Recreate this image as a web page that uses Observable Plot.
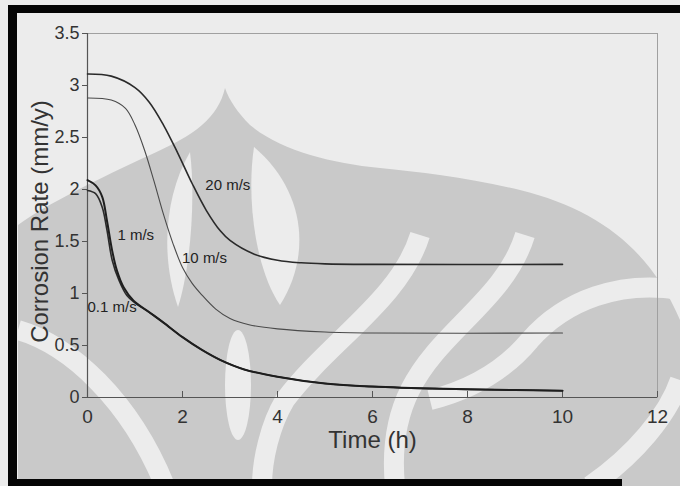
<!DOCTYPE html>
<html><head><meta charset="utf-8">
<script src="https://cdn.jsdelivr.net/npm/d3@7"></script>
<script src="https://cdn.jsdelivr.net/npm/@observablehq/plot@0.6"></script>
<style>
body{margin:0;background:#fff;}
#wrap{position:relative;width:680px;height:486px;overflow:hidden;background:#ececec;}
#wm{position:absolute;left:0;top:0;}
#chart{position:absolute;left:0;top:0;}
.bar{position:absolute;background:#050505;}
</style></head>
<body>
<div id="wrap">
<svg id="wm" width="680" height="486">
  <path d="M225,88 C218,118 195,135 150,155 C100,178 45,205 18,225 L18,486 L680,486 L680,320 C650,250 600,210 520,190 C470,178 420,172 380,168 C330,163 280,150 250,125 C238,113 229,100 225,88 Z" fill="#c9c9c9"/>
  <g fill="#ececec">
    <path d="M190,152 C165,195 160,255 178,307 C190,270 196,200 190,152 Z"/>
    <path d="M254,147 C305,190 312,255 280,305 C256,270 246,200 254,147 Z"/>
    <ellipse cx="238" cy="385" rx="13" ry="55"/>
  </g>
  <g fill="none" stroke="#ececec" stroke-width="20">
    <path d="M420,235 C400,300 330,340 285,400 C270,425 262,460 262,486"/>
    <path d="M525,235 C505,300 440,330 410,390 C395,420 392,455 395,486"/>
    <path d="M18,330 C70,345 130,400 165,486"/>
    <path d="M590,486 C635,455 668,415 680,380"/>
    <path d="M680,290 C620,280 565,300 530,340 C505,370 470,390 430,400"/>
  </g>
</svg>
<div id="chart"></div>
<div class="bar" style="left:8px;top:5px;width:672px;height:8px"></div>
<div class="bar" style="left:8px;top:5px;width:9px;height:481px"></div>
<div class="bar" style="left:8px;top:479px;width:614px;height:7px"></div>
</div>
<script>
// Corrosion rate (mm/y) vs time (h) at different flow velocities
const time20 = [0, 0.5, 1.0, 1.3, 1.6, 1.9, 2.2, 2.5, 2.8, 3.0, 3.5, 4.0, 4.5, 5, 6, 10];
const rate20 = [3.11, 3.09, 2.98, 2.84, 2.62, 2.35, 2.06, 1.80, 1.60, 1.51, 1.38, 1.32, 1.295, 1.285, 1.28, 1.28];

const time10 = [0, 0.5, 0.8, 1.0, 1.2, 1.4, 1.6, 1.8, 2.0, 2.2, 2.4, 2.7, 3.0, 3.4, 4.0, 5, 6, 10];
const rate10 = [2.88, 2.86, 2.78, 2.62, 2.38, 2.08, 1.76, 1.48, 1.25, 1.10, 0.99, 0.85, 0.76, 0.70, 0.66, 0.63, 0.62, 0.62];

const time1 = [0, 0.17, 0.31, 0.41, 0.52, 0.62, 0.76, 0.97, 1.3, 1.6, 2.0, 2.4, 2.8, 3.3, 4.0, 5.0, 6.0, 7.5, 9, 10];
const rate1 = [2.09, 2.04, 1.93, 1.70, 1.41, 1.22, 1.06, 0.93, 0.82, 0.72, 0.58, 0.46, 0.36, 0.27, 0.20, 0.135, 0.105, 0.083, 0.072, 0.065];

const time01 = [0, 0.17, 0.31, 0.41, 0.52, 0.66, 0.83, 1.0, 1.3, 1.6, 2.0, 2.4, 2.8, 3.3, 4.0, 5.0, 6.0, 7.5, 9, 10];
const rate01 = [1.99, 1.96, 1.83, 1.61, 1.32, 1.13, 0.98, 0.91, 0.82, 0.72, 0.58, 0.46, 0.36, 0.27, 0.20, 0.135, 0.105, 0.083, 0.072, 0.065];

const seriesNames = ["20 m/s", "10 m/s", "1 m/s", "0.1 m/s"];
const labelTime = [2.48, 1.99, 0.63, 0.0];
const labelRate = [2.04, 1.34, 1.56, 0.87];

const xTicks = [0, 2, 4, 6, 8, 10, 12];
const yTicks = [0, 0.5, 1, 1.5, 2, 2.5, 3, 3.5];

const toPts = (t, r) => t.map((x, i) => ({t: x, r: r[i]}));
const labels = seriesNames.map((s, i) => ({s, t: labelTime[i], r: labelRate[i]}));

const font = "'Liberation Sans', Arial, sans-serif";

const chart = Plot.plot({
  width: 680,
  height: 486,
  marginLeft: 87,
  marginRight: 23,
  marginTop: 33,
  marginBottom: 89,
  style: {background: "transparent", fontFamily: font, color: "#333"},
  x: {domain: [0, 12]},
  y: {domain: [0, 3.5]},
  marks: [
    Plot.frame({stroke: "#a0a0a0", strokeWidth: 1}),
    Plot.axisY(yTicks, {tickSize: 5, tickPadding: 3, fontSize: 18, stroke: "#555", fill: "#333", label: null, tickFormat: d => String(d)}),
    Plot.axisX(xTicks, {tickSize: 0, tickPadding: 12, fontSize: 19, fill: "#333", label: null, tickFormat: d => String(d)}),
    Plot.axisX(xTicks, {tickSize: -6, text: null, stroke: "#555", label: null}),
    Plot.ruleX([0], {stroke: "#555", strokeWidth: 1.2}),
    Plot.ruleY([0], {stroke: "#555", strokeWidth: 1.2}),
    Plot.line(toPts(time20, rate20), {x: "t", y: "r", curve: "catmull-rom", stroke: "#2a2a2a", strokeWidth: 1.6}),
    Plot.line(toPts(time10, rate10), {x: "t", y: "r", curve: "catmull-rom", stroke: "#4a4a4a", strokeWidth: 1.1}),
    Plot.line(toPts(time01, rate01), {x: "t", y: "r", curve: "catmull-rom", stroke: "#2a2a2a", strokeWidth: 1.6}),
    Plot.line(toPts(time1, rate1), {x: "t", y: "r", curve: "catmull-rom", stroke: "#1e1e1e", strokeWidth: 2}),
    Plot.text(labels, {x: "t", y: "r", text: "s", textAnchor: "start", fontSize: 15, fill: "#222"}),
    Plot.text(["Time (h)"], {frameAnchor: "bottom", dy: 50, fontSize: 24, fill: "#333"}),
    Plot.text(["Corrosion Rate (mm/y)"], {frameAnchor: "left", textAnchor: "middle", dx: -47, dy: 6, rotate: -90, fontSize: 24, fill: "#333", style: {letterSpacing: "1.5px"}})
  ]
});
document.getElementById("chart").appendChild(chart);
</script>
</body></html>
